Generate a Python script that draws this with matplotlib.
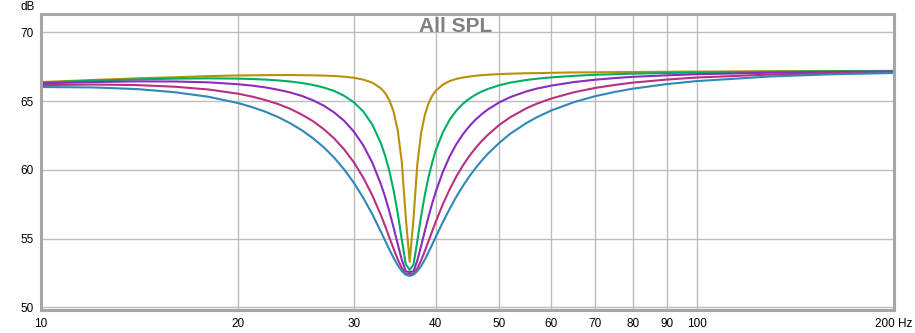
import numpy as np
import matplotlib
matplotlib.use('Agg')
from matplotlib import pyplot as plt
from matplotlib.ticker import FixedLocator, FixedFormatter, NullLocator

plt.rcParams['font.family'] = ['Liberation Sans', 'DejaVu Sans']

# frequency points (Hz)
freq = [10, 12, 14, 16, 18, 20, 21, 22, 23, 24,
        25, 26, 27, 28, 29, 30, 31, 32, 33, 33.5,
        34, 34.5, 35, 35.5, 36, 36.5, 37, 37.5, 38, 38.5,
        39, 39.5, 40, 41, 42, 43, 44, 45, 46, 47,
        48, 50, 52, 55, 57, 60, 65, 70, 75, 80,
        90, 100, 130, 160, 200]

# SPL of each trace (dB)
spl_gold = [66.38, 66.53, 66.65, 66.73, 66.81, 66.86, 66.87, 66.88, 66.89, 66.89,
            66.88, 66.87, 66.85, 66.82, 66.77, 66.69, 66.56, 66.34, 65.92, 65.57,
            65.04, 64.22, 62.88, 60.59, 56.56, 53.30, 56.48, 60.43, 62.68, 64.00,
            64.83, 65.37, 65.74, 66.19, 66.45, 66.61, 66.71, 66.78, 66.84, 66.88,
            66.91, 66.96, 66.99, 67.02, 67.03, 67.05, 67.08, 67.09, 67.10, 67.11,
            67.13, 67.14, 67.17, 67.18, 67.19]
spl_green = [66.34, 66.48, 66.57, 66.63, 66.65, 66.63, 66.60, 66.56, 66.50, 66.42,
             66.31, 66.17, 65.98, 65.73, 65.38, 64.91, 64.25, 63.30, 61.92, 61.00,
             59.87, 58.50, 56.84, 54.94, 53.13, 52.72, 53.10, 54.84, 56.63, 58.18,
             59.47, 60.52, 61.40, 62.71, 63.64, 64.30, 64.80, 65.17, 65.46, 65.69,
             65.87, 66.15, 66.34, 66.53, 66.62, 66.72, 66.83, 66.91, 66.95, 66.99,
             67.04, 67.07, 67.13, 67.16, 67.17]
spl_purple = [66.28, 66.38, 66.43, 66.42, 66.36, 66.22, 66.12, 65.99, 65.82, 65.62,
              65.37, 65.05, 64.66, 64.17, 63.56, 62.78, 61.79, 60.54, 58.94, 58.00,
              56.94, 55.79, 54.60, 53.47, 52.61, 52.56, 52.61, 53.41, 54.46, 55.55,
              56.59, 57.54, 58.40, 59.83, 60.96, 61.86, 62.58, 63.16, 63.65, 64.04,
              64.38, 64.90, 65.29, 65.70, 65.90, 66.12, 66.38, 66.55, 66.67, 66.76,
              66.87, 66.95, 67.06, 67.11, 67.15]
spl_magenta = [66.16, 66.20, 66.16, 66.04, 65.84, 65.53, 65.32, 65.07, 64.78, 64.43,
               64.01, 63.53, 62.95, 62.28, 61.48, 60.55, 59.44, 58.16, 56.69, 55.89,
               55.06, 54.25, 53.49, 52.85, 52.43, 52.42, 52.44, 52.84, 53.41, 54.09,
               54.81, 55.52, 56.22, 57.48, 58.57, 59.51, 60.31, 60.99, 61.58, 62.09,
               62.53, 63.26, 63.83, 64.47, 64.80, 65.18, 65.64, 65.95, 66.17, 66.34,
               66.56, 66.71, 66.93, 67.03, 67.10]
spl_blue = [66.02, 65.99, 65.87, 65.64, 65.31, 64.85, 64.55, 64.22, 63.83, 63.38,
            62.87, 62.29, 61.63, 60.88, 60.02, 59.06, 57.97, 56.78, 55.49, 54.83,
            54.19, 53.59, 53.06, 52.64, 52.37, 52.28, 52.37, 52.63, 53.00, 53.47,
            54.00, 54.55, 55.11, 56.18, 57.15, 58.04, 58.82, 59.51, 60.12, 60.66,
            61.15, 61.96, 62.63, 63.40, 63.81, 64.31, 64.92, 65.35, 65.66, 65.90,
            66.23, 66.45, 66.79, 66.94, 67.04]

traces = [spl_gold, spl_green, spl_purple, spl_magenta, spl_blue]
colors = ['#b8900a', '#00b060', '#8a2cc0', '#b83080', '#2e88b8']

x_ticks = [10, 20, 30, 40, 50, 60, 70, 80, 90, 100, 200]
x_labels = ['10', '20', '30', '40', '50', '60', '70', '80', '90', '100', '200 Hz']
y_ticks = [50, 55, 60, 65, 70]

fig = plt.figure(figsize=(9.15, 3.33), dpi=100)
ax = fig.add_axes([41 / 915, 1 - 310 / 333, 853 / 915, 296 / 333])

for spl, c in zip(traces, colors):
    ax.plot(freq, spl, color=c, lw=1.5, solid_capstyle='round', solid_joinstyle='round')

ax.set_xscale('log')
ax.set_xlim(10, 200)
ax.set_ylim(49.8, 71.33)
ax.xaxis.set_major_locator(FixedLocator(x_ticks))
ax.xaxis.set_major_formatter(FixedFormatter(x_labels))
ax.xaxis.set_minor_locator(NullLocator())
ax.set_yticks(y_ticks)
ax.tick_params(axis='both', length=0, labelsize=8.5, colors='#000000')
ax.tick_params(axis='x', pad=6)
ax.tick_params(axis='y', pad=5)
ax.grid(True, color='#bdbdbd', lw=1)
ax.set_axisbelow(True)
for s in ax.spines.values():
    s.set_color('#a6a6a6')
    s.set_linewidth(2.2)

ax.text(0.486, 0.99, 'All SPL', transform=ax.transAxes, ha='center', va='top',
        fontsize=15, fontweight='bold', color='#808080')
fig.text(35 / 915, 1 - 1 / 333, 'dB', ha='right', va='top', fontsize=8.5)

plt.savefig('out.png', dpi=100)
